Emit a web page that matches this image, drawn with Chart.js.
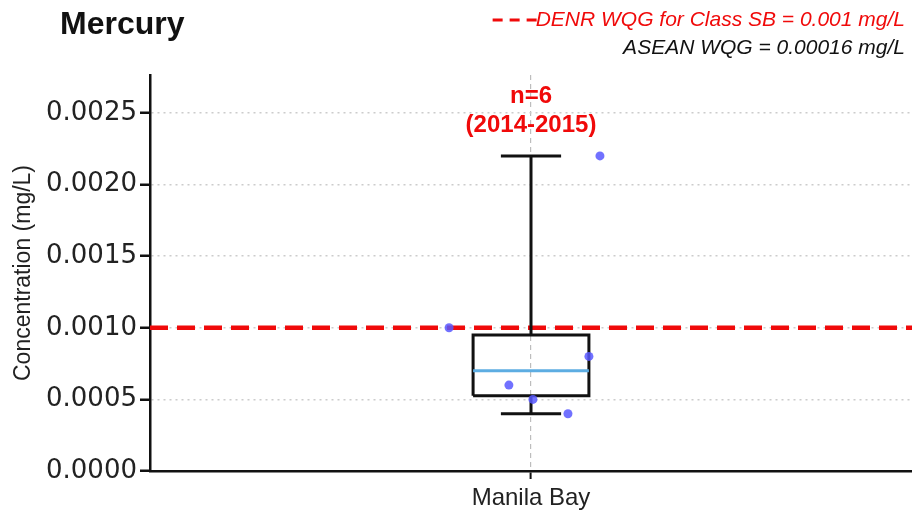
<!DOCTYPE html>
<html>
<head>
<meta charset="utf-8">
<script src="https://cdn.jsdelivr.net/npm/chart.js@4/dist/chart.umd.min.js"></script>
<style>
  html, body { margin: 0; padding: 0; background: #fff; }
  #wrap { width: 912px; height: 514px; }
</style>
</head>
<body>
<div id="wrap"><canvas id="chart" width="912" height="514"></canvas></div>
<script>
// data
const site = "Manila Bay";
const mercury = [0.0010, 0.0006, 0.0005, 0.0004, 0.0008, 0.0022];
const jitter = [-0.215, -0.058, 0.005, 0.097, 0.152, 0.181];
const yTicks = [0, 0.0005, 0.001, 0.0015, 0.002, 0.0025];
const denrLimit = 0.001;
const sampleNote = ["n=6", "(2014-2015)"];
const legendLines = ["DENR WQG for Class SB = 0.001 mg/L", "ASEAN WQG = 0.00016 mg/L"];

const RED = "rgb(240, 10, 10)";
const INK = "#111";
const SANS = '"Liberation Sans", Arial, sans-serif';

// numpy-style linear quantile
function quantile(values, q) {
  const s = [...values].sort((a, b) => a - b);
  const pos = (s.length - 1) * q;
  const lo = Math.floor(pos);
  const hi = Math.ceil(pos);
  return s[lo] + (s[hi] - s[lo]) * (pos - lo);
}

const q1 = quantile(mercury, 0.25);
const med = quantile(mercury, 0.5);
const q3 = quantile(mercury, 0.75);
const lo = Math.min(...mercury);
const hi = Math.max(...mercury);

const BOX_HALF = 0.152;
const CAP_HALF = 0.079;

function segment(points, color, width, extra) {
  return Object.assign({
    data: points,
    showLine: true,
    borderColor: color,
    borderWidth: width,
    pointRadius: 0,
    fill: false,
  }, extra || {});
}

const textPlugin = {
  id: "texts",
  afterDraw(chart) {
    const { ctx, scales: { x } } = chart;
    ctx.save();

    ctx.font = "bold 32px " + SANS;
    ctx.fillStyle = INK;
    ctx.textAlign = "left";
    ctx.textBaseline = "middle";
    ctx.fillText("Mercury", 60, 25);

    ctx.font = "italic 21px " + SANS;
    ctx.textAlign = "right";
    ctx.fillStyle = RED;
    ctx.fillText(legendLines[0], 905, 20);
    const w = ctx.measureText(legendLines[0]).width;
    ctx.strokeStyle = RED;
    ctx.lineWidth = 3;
    ctx.setLineDash([10, 7]);
    ctx.beginPath();
    ctx.moveTo(905 - w - 43, 20);
    ctx.lineTo(905 - w + 1, 20);
    ctx.stroke();
    ctx.setLineDash([]);
    ctx.fillStyle = INK;
    ctx.fillText(legendLines[1], 905, 48);

    ctx.font = "bold 24px " + SANS;
    ctx.textAlign = "center";
    ctx.fillStyle = RED;
    const cx = x.getPixelForValue(0);
    ctx.fillText(sampleNote[0], cx, 96);
    ctx.fillText(sampleNote[1], cx, 125);

    ctx.restore();
  },
};

new Chart(document.getElementById("chart"), {
  type: "scatter",
  data: {
    datasets: [
      {
        data: mercury.map((v, i) => ({ x: jitter[i], y: v })),
        pointRadius: 4.5,
        pointBackgroundColor: "rgba(88, 88, 255, 0.85)",
        pointBorderWidth: 0,
        showLine: false,
      },
      segment([{ x: -BOX_HALF, y: med }, { x: BOX_HALF, y: med }], "#5dade2", 3),
      segment([
        { x: -BOX_HALF, y: q1 }, { x: BOX_HALF, y: q1 },
        { x: BOX_HALF, y: q3 }, { x: -BOX_HALF, y: q3 },
        { x: -BOX_HALF, y: q1 },
      ], INK, 3),
      segment([{ x: 0, y: q3 }, { x: 0, y: hi }], INK, 3),
      segment([{ x: 0, y: q1 }, { x: 0, y: lo }], INK, 3),
      segment([{ x: -CAP_HALF, y: hi }, { x: CAP_HALF, y: hi }], INK, 3),
      segment([{ x: -CAP_HALF, y: lo }, { x: CAP_HALF, y: lo }], INK, 3),
      segment([{ x: -1, y: denrLimit }, { x: 1, y: denrLimit }], RED, 4.5, { borderDash: [18, 9] }),
    ],
  },
  options: {
    responsive: false,
    animation: false,
    layout: { autoPadding: false, padding: { top: 75, right: 0, left: 0, bottom: 0 } },
    plugins: {
      legend: { display: false },
      tooltip: { enabled: false },
    },
    scales: {
      x: {
        type: "linear",
        min: -1,
        max: 1,
        afterBuildTicks: (s) => { s.ticks = [{ value: 0 }]; },
        afterFit: (s) => {
          s.height = 43;
          s.paddingLeft = 0;
          s.paddingRight = 0;
        },
        ticks: {
          callback: () => site,
          font: { family: SANS, size: 24 },
          color: "#222",
          padding: 5,
          maxRotation: 0,
        },
        grid: {
          color: "#bdbdbd",
          lineWidth: 1.2,
          tickColor: INK,
          tickLength: 8,
          tickWidth: 2,
          tickBorderDash: [],
        },
        border: { color: INK, width: 2.5, dash: [5, 4] },
      },
      y: {
        min: 0,
        max: 0.002765,
        afterBuildTicks: (s) => { s.ticks = yTicks.map((v) => ({ value: v })); },
        afterFit: (s) => { s.width = 150; },
        ticks: {
          callback: (v) => v.toFixed(4),
          font: { family: '"DejaVu Sans", sans-serif', size: 26 },
          color: "#222",
          padding: 3,
        },
        grid: {
          color: "#cccccc",
          lineWidth: 1.5,
          tickColor: INK,
          tickLength: 10,
          tickWidth: 2.5,
          tickBorderDash: [],
        },
        border: { color: INK, width: 2.5, dash: [2, 4] },
        title: {
          display: true,
          text: "Concentration (mg/L)",
          font: { family: SANS, size: 23 },
          color: "#222",
          padding: { top: 10, bottom: 0 },
        },
      },
    },
  },
  plugins: [textPlugin],
});
</script>
</body>
</html>
